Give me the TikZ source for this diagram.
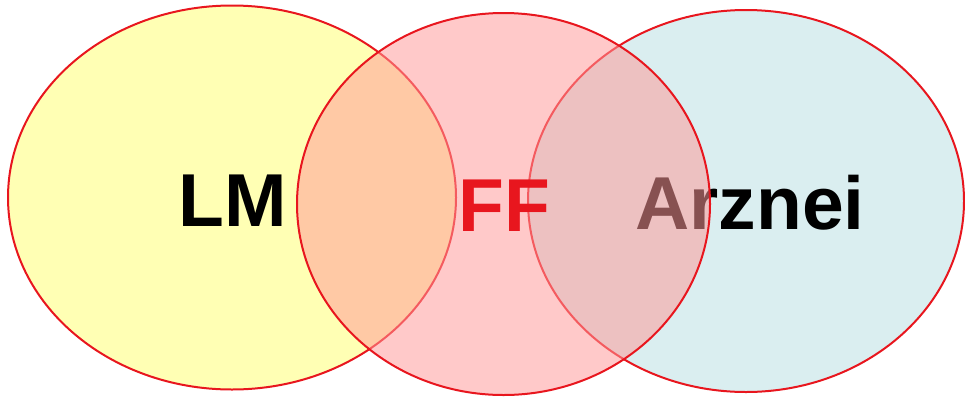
\documentclass[tikz,border=0pt]{standalone}
\usepackage{fontspec}
\setmainfont{Liberation Sans}
\definecolor{lmyellow}{RGB}{255,255,180}
\definecolor{arzblue}{RGB}{218,238,240}
\definecolor{ffpink}{RGB}{255,153,153}
\definecolor{ringred}{RGB}{232,22,30}
\tikzset{
  ring/.style={draw=ringred,line width=2pt},
  bigword/.style={font=\fontsize{75}{75}\selectfont\bfseries,inner sep=0pt}
}
\begin{document}
\begin{tikzpicture}[x=1pt,y=-1pt]
			\useasboundingbox (0,0) rectangle (965,397);
			% outer sets
			\filldraw[ring,fill=lmyellow] (232,197.5) ellipse (224 and 192);
			\filldraw[ring,fill=arzblue] (746,201) ellipse (218 and 191);
			\node[bigword] (lm) at (233,201) {LM};
			\node[bigword] (arznei) at (750,203) {Arznei};
			% middle set on top
			\fill[ffpink,fill opacity=0.53] (503.5,204) ellipse (206.5 and 191);
			\draw[ring] (503.5,204) ellipse (206.5 and 191);
			\node[bigword,text=ringred] (ff) at (504,206) {FF};
\end{tikzpicture}
\end{document}
